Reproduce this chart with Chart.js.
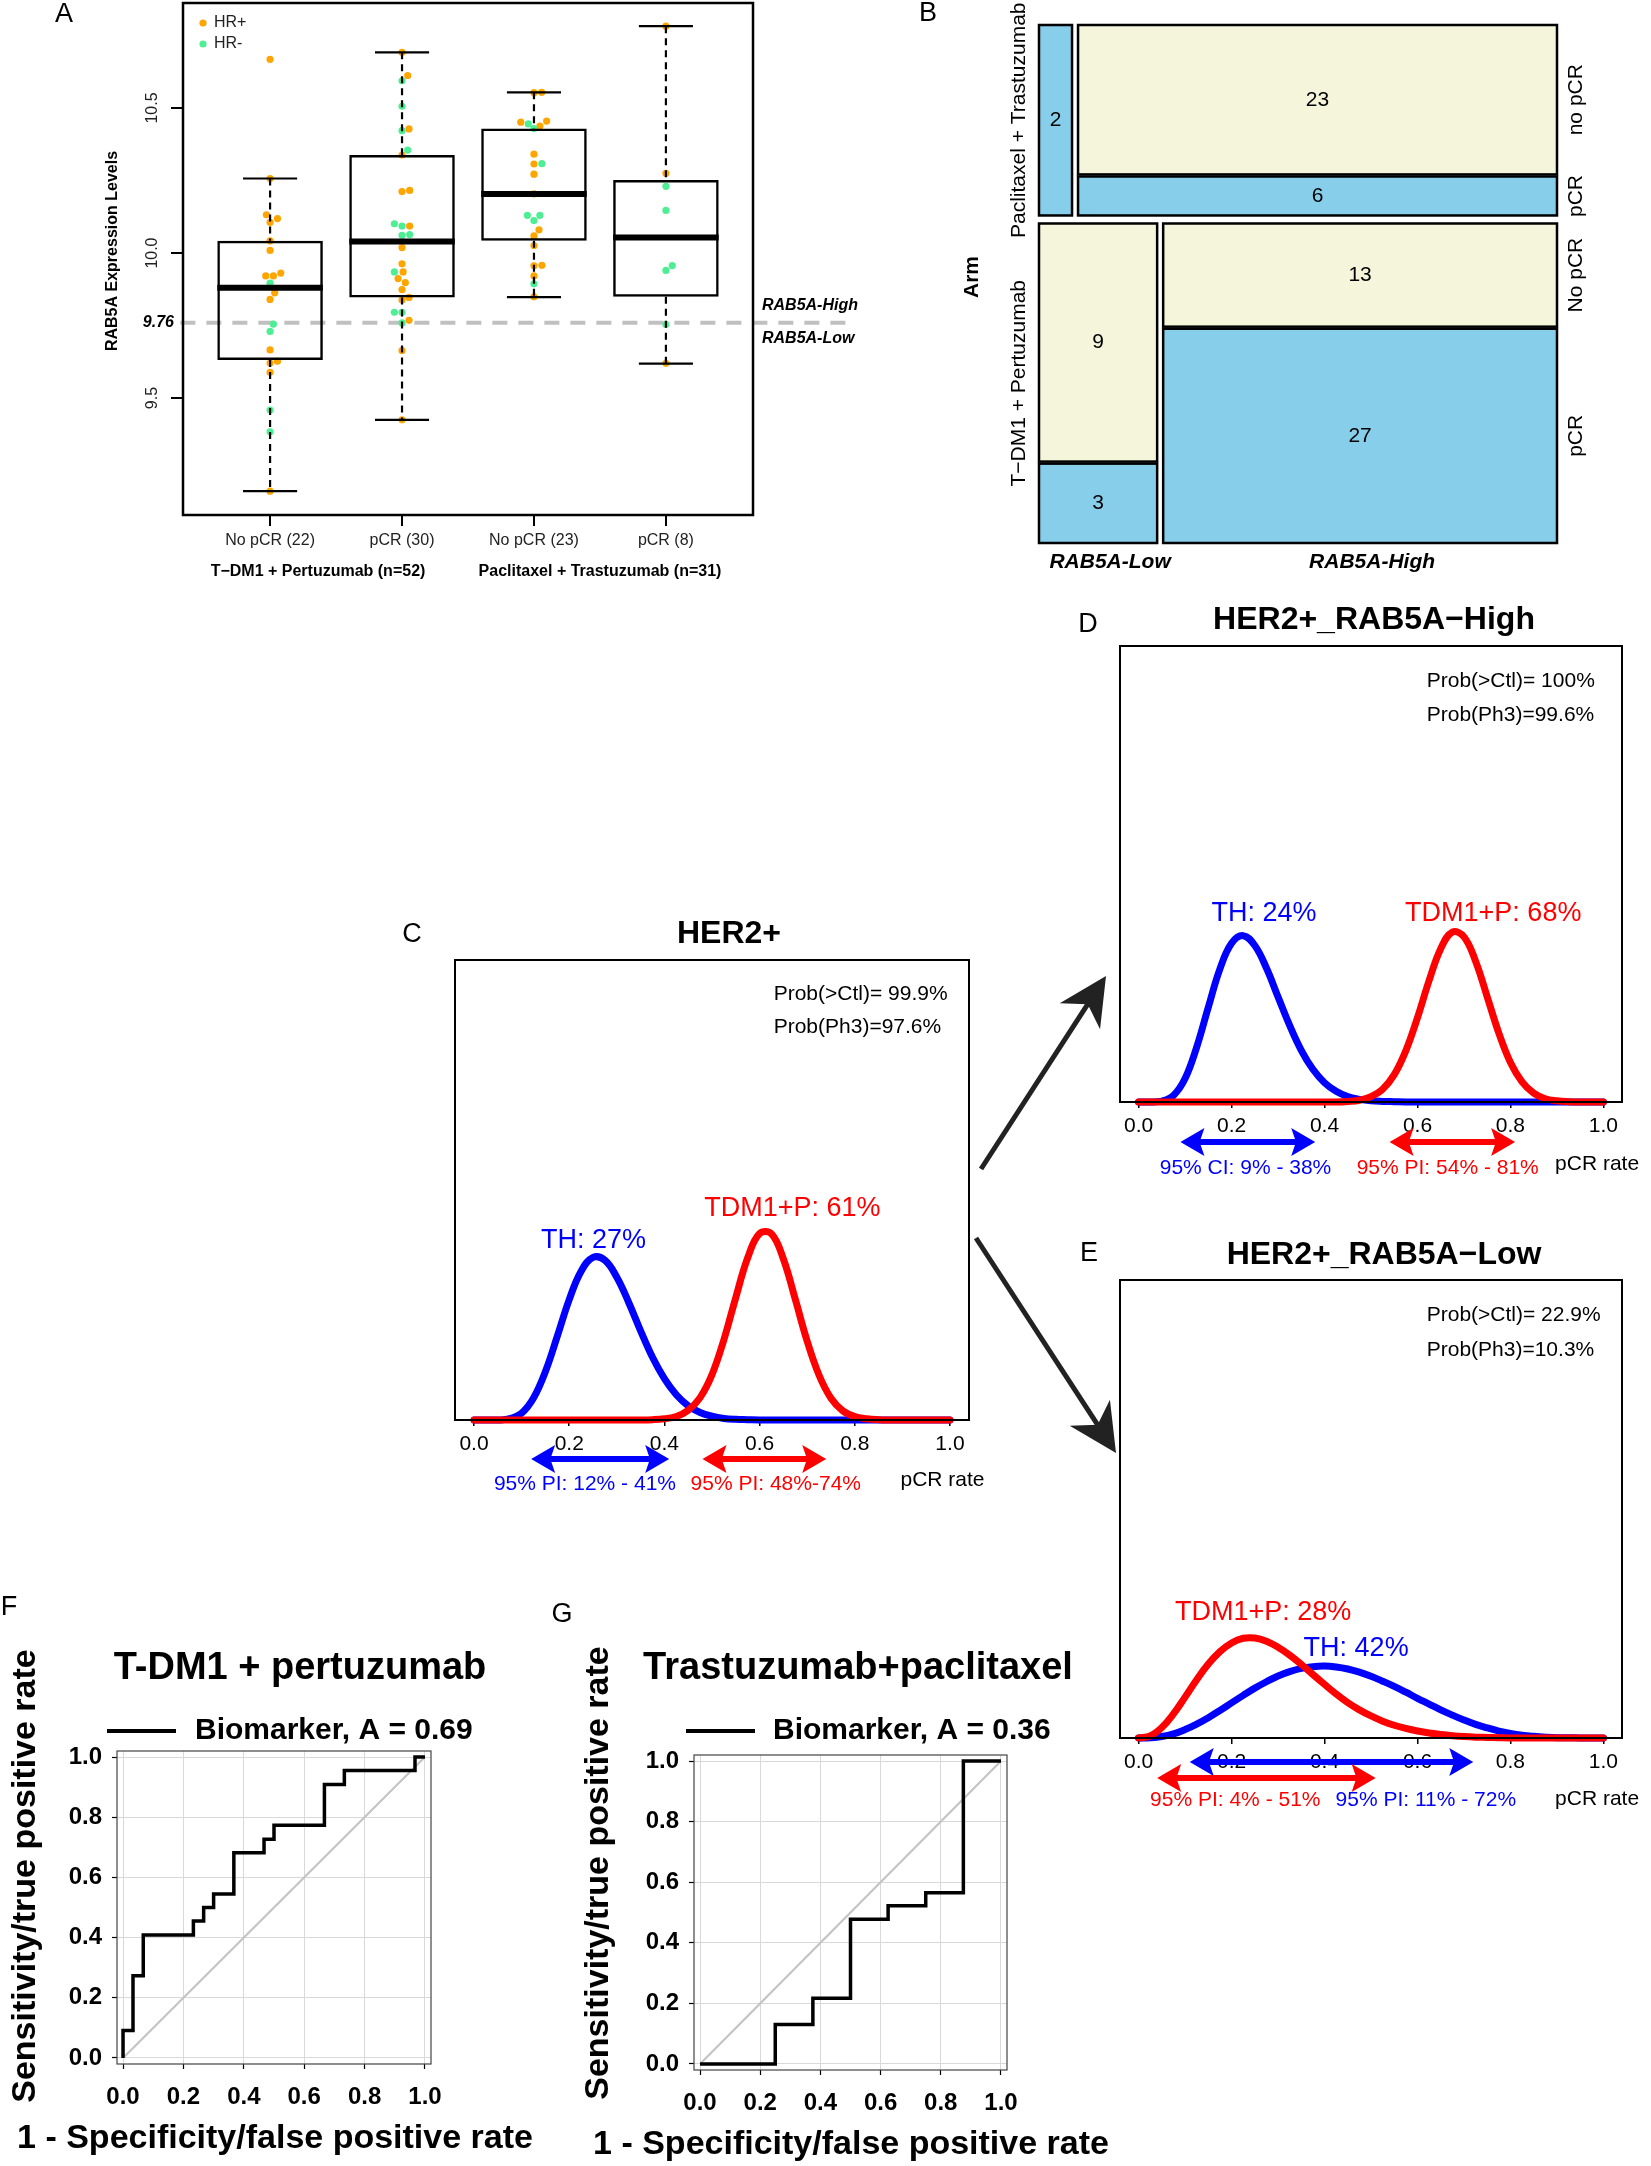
<!DOCTYPE html>
<html>
<head>
<meta charset="utf-8">
<title>RAB5A figure</title>
<script src="https://cdn.jsdelivr.net/npm/chart.js@4.4.1/dist/chart.umd.min.js"></script>
<style>
  html, body { margin:0; padding:0; background:#ffffff; }
  body { position:relative; width:1651px; height:2166px; overflow:hidden; }
  canvas { position:absolute; }
</style>
</head>
<body>
<script>
// ======================= DATA =======================
// ---- Panel A : RAB5A expression by arm / response ----
const groupLabels = ['No pCR (22)', 'pCR (30)', 'No pCR (23)', 'pCR (8)'];
const armLabelsA = ['T\u2212DM1 + Pertuzumab (n=52)', 'Paclitaxel + Trastuzumab (n=31)'];
const boxQ1       = [9.631, 9.847, 10.042, 9.849];
const boxMedian   = [9.880, 10.040, 10.204, 10.054];
const boxQ3       = [10.042, 10.338, 10.429, 10.252];
const whiskerLow  = [9.179, 9.425, 9.848, 9.619];
const whiskerHigh = [10.257, 10.692, 10.554, 10.782];
const yTicksA = [9.5, 10.0, 10.5];
const cutoffValue = 9.76;
const hrLegend = ['HR+', 'HR-'];
const ptGroup = [
  1,1,1,1,1,1,1,1,1,1,1,1,1,1,1,1,1,1,1,1,1,1,
  2,2,2,2,2,2,2,2,2,2,2,2,2,2,2,2,2,2,2,2,2,2,2,2,2,2,2,2,2,2,
  3,3,3,3,3,3,3,3,3,3,3,3,3,3,3,3,3,3,3,3,3,3,3,
  4,4,4,4,4,4,4,4];
const ptValue = [
  10.668,10.257,10.132,10.119,10.106,10.042,10.009,9.921,9.921,9.931,9.896,9.863,9.840,9.755,9.730,9.666,9.621,9.627,9.589,9.459,9.384,9.179,
  10.692,10.612,10.594,10.506,10.422,10.428,10.355,10.338,10.212,10.216,10.101,10.093,10.093,10.061,10.064,10.019,9.963,9.935,9.935,9.912,9.898,9.874,9.838,9.847,9.796,9.796,9.759,9.768,9.664,9.425,
  10.553,10.554,10.451,10.445,10.438,10.455,10.429,10.341,10.307,10.308,10.272,10.204,10.130,10.130,10.112,10.080,10.059,10.026,9.956,9.958,9.921,9.894,9.849,
  10.782,10.275,10.230,10.147,9.940,9.957,9.754,9.620];
const ptHR = [
  '+','+','+','+','+','+','+','+','+','+','-','+','+','-','-','+','+','+','+','-','-','+',
  '+','+','-','-','-','+','-','+','+','+','-','-','+','-','-','+','+','-','+','+','+','+','+','+','-','-','-','+','+','+',
  '+','+','+','-','+','+','-','+','+','-','+','+','-','-','-','+','+','+','+','+','+','-','+',
  '+','+','-','-','-','-','-','+'];
const ptJitter = [
  0,0,-0.028,0.056,0,0,0,-0.033,0.025,0.081,0,0.035,0,0.025,0,0,0,0.056,0,0,0,0,
  0,0.043,0,0,0,0.053,0.043,0,0,0.058,-0.058,0,0.058,0,0.058,0,0,-0.058,0.008,-0.03,0.025,0,0,0.053,-0.058,0,0,0.053,0,0,
  0,0.058,-0.10,-0.043,0.045,0.096,0,0,0,0.06,0,0,-0.05,0.045,0,0.038,0,0,0,0.06,0,0,0,
  0,0,0,0,0,0.048,0,0];

// ---- Panel B : mosaic ----
const armsB = ['Paclitaxel + Trastuzumab', 'T\u2212DM1 + Pertuzumab'];
const rabB = ['RAB5A-Low', 'RAB5A-High'];
const noPcrB = [[0, 23], [9, 13]];
const pcrB   = [[2, 6], [3, 27]];
const respLabelsB = [['no pCR', 'pCR'], ['No pCR', 'pCR']];

// ---- Panels C, D, E : posterior pCR-rate densities ----
const rateTicks = [0, 0.2, 0.4, 0.6, 0.8, 1.0];
const rateGrid = [0,0.025,0.05,0.075,0.1,0.125,0.15,0.175,0.2,0.225,0.25,0.275,0.3,0.325,0.35,0.375,0.4,0.425,0.45,0.475,0.5,
                  0.525,0.55,0.575,0.6,0.625,0.65,0.675,0.7,0.725,0.75,0.775,0.8,0.825,0.85,0.875,0.9,0.925,0.95,0.975,1.0];
const densC_TH  = [0,0,0,0.04,0.22,0.70,1.54,2.66,3.82,4.72,5.16,5.07,4.53,3.73,2.83,1.99,1.31,0.80,0.45,0.24,0.12,
                   0.05,0.02,0.01,0,0,0,0,0,0,0,0,0,0,0,0,0,0,0,0,0];
const densC_TDM = [0,0,0,0,0,0,0,0,0,0,0,0,0,0,0,0.01,0.04,0.11,0.31,0.71,1.44,
                   2.55,3.89,5.15,5.92,5.91,5.11,3.83,2.50,1.42,0.69,0.29,0.11,0.04,0.01,0,0,0,0,0,0];
const densD_TH  = [0,0,0.03,0.22,0.79,1.85,3.19,4.48,5.34,5.60,5.27,4.51,3.54,2.58,1.74,1.10,0.65,0.36,0.18,0.09,0.04,
                   0.02,0.01,0,0,0,0,0,0,0,0,0,0,0,0,0,0,0,0,0,0];
const densD_TDM = [0,0,0,0,0,0,0,0,0,0,0,0,0,0,0,0,0,0,0.02,0.06,0.18,
                   0.43,0.92,1.73,2.84,4.09,5.16,5.72,5.56,4.74,3.54,2.32,1.33,0.68,0.30,0.11,0.04,0.01,0,0,0];
const densE_TH  = [0,0.01,0.05,0.14,0.29,0.48,0.70,0.95,1.21,1.47,1.72,1.94,2.14,2.29,2.40,2.46,2.48,2.45,2.38,2.27,2.13,
                   1.96,1.78,1.58,1.37,1.17,0.97,0.79,0.62,0.47,0.35,0.24,0.16,0.10,0.06,0.03,0.01,0.01,0,0,0];
const densE_TDM = [0,0.07,0.36,0.83,1.41,2.01,2.55,2.98,3.28,3.44,3.45,3.34,3.13,2.86,2.54,2.19,1.85,1.52,1.22,0.97,0.76,
                   0.58,0.44,0.33,0.24,0.17,0.12,0.08,0.05,0.03,0.02,0.01,0,0,0,0,0,0,0,0,0];
const densTitles = ['HER2+', 'HER2+_RAB5A\u2212High', 'HER2+_RAB5A\u2212Low'];
const probCtl = ['Prob(>Ctl)= 99.9%', 'Prob(>Ctl)= 100%', 'Prob(>Ctl)= 22.9%'];
const probPh3 = ['Prob(Ph3)=97.6%', 'Prob(Ph3)=99.6%', 'Prob(Ph3)=10.3%'];
const thLabel  = ['TH: 27%', 'TH: 24%', 'TH: 42%'];
const tdmLabel = ['TDM1+P: 61%', 'TDM1+P: 68%', 'TDM1+P: 28%'];
const thInterval  = [[0.12, 0.41], [0.09, 0.38], [0.11, 0.72]];
const tdmInterval = [[0.48, 0.74], [0.54, 0.81], [0.04, 0.51]];
const thIntervalLabel  = ['95% PI: 12% - 41%', '95% CI: 9% - 38%', '95% PI: 11% - 72%'];
const tdmIntervalLabel = ['95% PI: 48%-74%', '95% PI: 54% - 81%', '95% PI: 4% - 51%'];

// ---- Panels F, G : ROC curves ----
const rocTicks = [0, 0.2, 0.4, 0.6, 0.8, 1.0];
const rocTitles = ['T-DM1 + pertuzumab', 'Trastuzumab+paclitaxel'];
const rocAUC = ['0.69', '0.36'];
const rocF_fpr = [0,0,0.033,0.033,0.067,0.067,0.233,0.233,0.267,0.267,0.3,0.3,0.367,0.367,0.467,0.467,0.5,0.5,0.667,0.667,0.733,0.733,0.967,0.967,1.0];
const rocF_tpr = [0,0.091,0.091,0.273,0.273,0.409,0.409,0.455,0.455,0.5,0.5,0.545,0.545,0.682,0.682,0.727,0.727,0.773,0.773,0.909,0.909,0.955,0.955,1.0,1.0];
const rocG_fpr = [0,0.25,0.25,0.375,0.375,0.5,0.5,0.625,0.625,0.75,0.75,0.875,0.875,1.0];
const rocG_tpr = [0,0,0.130,0.130,0.217,0.217,0.478,0.478,0.522,0.522,0.565,0.565,1.0,1.0];
const chanceLine = [0, 1];

// ======================= HELPERS =======================
const FONT = "'Liberation Sans', Arial, Helvetica, sans-serif";
Chart.defaults.font.family = FONT;
Chart.defaults.color = '#000';

function addCanvas(r) {
  const c = document.createElement('canvas');
  c.width = r.w; c.height = r.h;
  c.style.left = r.x + 'px'; c.style.top = r.y + 'px';
  c.style.width = r.w + 'px'; c.style.height = r.h + 'px';
  document.body.appendChild(c);
  return c;
}
function drawText(ctx, s, x, y, size, o) {
  o = o || {};
  ctx.save();
  ctx.font = (o.style || 'normal') + ' ' + (o.weight || 'normal') + ' ' + size + 'px ' + FONT;
  ctx.fillStyle = o.color || '#000';
  ctx.textAlign = o.align || 'center';
  ctx.textBaseline = o.baseline || 'middle';
  ctx.translate(x, y);
  if (o.rot) ctx.rotate(o.rot);
  ctx.fillText(s, 0, 0);
  ctx.restore();
}
function baseOptions(R, A, yW, xH) {
  return {
    responsive: false, maintainAspectRatio: false, animation: false, devicePixelRatio: 1, events: [],
    layout: { autoPadding: false, padding: {
      left: A.l - R.x - yW, top: A.t - R.y,
      right: R.x + R.w - A.r, bottom: R.y + R.h - A.b - xH } },
    plugins: { legend: { display: false }, tooltip: { enabled: false }, title: { display: false } }
  };
}
function frame(ctx, a, color, lw) {
  ctx.save(); ctx.strokeStyle = color; ctx.lineWidth = lw;
  ctx.strokeRect(a.left, a.top, a.right - a.left, a.bottom - a.top);
  ctx.restore();
}
const UP = -Math.PI / 2;

// ======================= PANEL A =======================
(function () {
  const R = { x: 0, y: 0, w: 900, h: 600 }, A = { l: 183, t: 3, r: 753, b: 515 };
  const BOX_HALF = 0.4, CAP_HALF = 0.205;
  const pos = [], neg = [];
  ptValue.forEach((v, i) => {
    const p = { x: ptGroup[i] + ptJitter[i], y: v };
    (ptHR[i] === '+' ? pos : neg).push(p);
  });
  const boxes = groupLabels.map((_, i) => ({ x: i + 1, y: [boxQ1[i], boxQ3[i]] }));
  const whisk = [], caps = [], meds = [];
  groupLabels.forEach((_, i) => {
    const g = i + 1;
    whisk.push({ x: g, y: whiskerHigh[i] }, { x: g, y: boxQ3[i] }, { x: g, y: null },
               { x: g, y: boxQ1[i] }, { x: g, y: whiskerLow[i] }, { x: g, y: null });
    caps.push({ x: g - CAP_HALF, y: whiskerHigh[i] }, { x: g + CAP_HALF, y: whiskerHigh[i] }, { x: g, y: null },
              { x: g - CAP_HALF, y: whiskerLow[i] }, { x: g + CAP_HALF, y: whiskerLow[i] }, { x: g, y: null });
    meds.push({ x: g - BOX_HALF, y: boxMedian[i] }, { x: g + BOX_HALF, y: boxMedian[i] }, { x: g, y: null });
  });
  const xMin = 0.34, xMax = 4.66;
  const opts = baseOptions(R, A, 60, 50);
  opts.scales = {
    x: { type: 'linear', min: xMin, max: xMax, offset: false,
      afterBuildTicks: s => { s.ticks = groupLabels.map((_, i) => ({ value: i + 1 })); },
      afterFit: s => { s.height = 50; },
      ticks: { autoSkip: false, maxRotation: 0, minRotation: 0, padding: 5, color: '#222', font: { size: 16 },
               callback: v => groupLabels[Math.round(v) - 1] },
      grid: { offset: false, drawOnChartArea: false, drawTicks: true, tickLength: 11, color: '#000', lineWidth: 2 },
      border: { display: false } },
    y: { type: 'linear', min: 9.097, max: 10.862,
      afterBuildTicks: s => { s.ticks = yTicksA.map(v => ({ value: v })); },
      afterFit: s => { s.width = 60; },
      ticks: { display: false },
      grid: { drawOnChartArea: false, drawTicks: true, tickLength: 12, color: '#000', lineWidth: 2 },
      border: { display: false } }
  };
  const plug = {
    id: 'panelA',
    afterDraw(chart) {
      const ctx = chart.ctx, a = chart.chartArea, ys = chart.scales.y;
      frame(ctx, a, '#000', 2.5);
      yTicksA.forEach(v => drawText(ctx, v.toFixed(1), 153, ys.getPixelForValue(v), 16, { rot: UP, color: '#222' }));
      drawText(ctx, 'RAB5A Expression Levels', 113, 251, 16, { weight: 'bold', rot: UP });
      drawText(ctx, armLabelsA[0], 318, 572, 16, { weight: 'bold' });
      drawText(ctx, armLabelsA[1], 600, 572, 16, { weight: 'bold' });
      const yc = ys.getPixelForValue(cutoffValue);
      drawText(ctx, cutoffValue.toFixed(2), 174, yc, 16, { weight: 'bold', style: 'italic', align: 'right' });
      drawText(ctx, 'RAB5A-High', 762, yc - 17, 16, { weight: 'bold', style: 'italic', align: 'left' });
      drawText(ctx, 'RAB5A-Low', 762, yc + 16, 16, { weight: 'bold', style: 'italic', align: 'left' });
      [['#FFA500', 23], ['#4EEE94', 44]].forEach((d, i) => {
        ctx.save(); ctx.fillStyle = d[0]; ctx.beginPath(); ctx.arc(203, d[1], 3.6, 0, Math.PI * 2); ctx.fill(); ctx.restore();
        drawText(ctx, hrLegend[i], 214, d[1], 16, { align: 'left', color: '#222' });
      });
      drawText(ctx, 'A', 64, 15, 27);
    }
  };
  new Chart(addCanvas(R), {
    type: 'scatter',
    data: { datasets: [
      { type: 'line', data: [{ x: xMin - 0.02, y: cutoffValue }, { x: xMax + 0.75, y: cutoffValue }], borderColor: '#C0C0C0',
        borderWidth: 4, borderDash: [15, 11], pointRadius: 0, clip: false, order: 20 },
      { type: 'scatter', data: pos, backgroundColor: '#FFA500', borderWidth: 0, pointRadius: 3.6, order: 10 },
      { type: 'scatter', data: neg, backgroundColor: '#4EEE94', borderWidth: 0, pointRadius: 3.6, order: 9 },
      { type: 'bar', data: boxes, backgroundColor: 'rgba(0,0,0,0)', borderColor: '#000', borderWidth: 2.5,
        borderSkipped: false, barPercentage: 0.8, categoryPercentage: 1, order: 3 },
      { type: 'line', data: whisk, borderColor: '#000', borderWidth: 2.2, borderDash: [7, 5], pointRadius: 0, spanGaps: false, order: 4 },
      { type: 'line', data: caps, borderColor: '#000', borderWidth: 2.2, pointRadius: 0, spanGaps: false, order: 4 },
      { type: 'line', data: meds, borderColor: '#000', borderWidth: 6, borderCapStyle: 'butt', pointRadius: 0, spanGaps: false, order: 1 }
    ] },
    options: opts,
    plugins: [plug]
  });
})();

// ======================= PANEL B =======================
(function () {
  const R = { x: 900, y: 0, w: 751, h: 600 }, A = { l: 1039, t: 25, r: 1557, b: 543 };
  const GAP_R = 0.0155, GAP_C = 0.0116, GAP_I = 0.004;
  const BEIGE = '#F5F5DC', BLUE = '#87CEEB';
  const opts = baseOptions(R, A, 0, 0);
  opts.scales = {
    x: { type: 'linear', min: 0, max: 1, display: false },
    y: { type: 'linear', min: 0, max: 1, reverse: true, display: false }
  };
  const plug = {
    id: 'mosaic',
    afterDraw(chart) {
      const ctx = chart.ctx, xs = chart.scales.x, ys = chart.scales.y, ox = R.x, oy = R.y;
      const rowTot = armsB.map((_, i) => noPcrB[i][0] + noPcrB[i][1] + pcrB[i][0] + pcrB[i][1]);
      const grand = rowTot.reduce((s, v) => s + v, 0);
      let yy = 0;
      armsB.forEach((arm, i) => {
        const h = (1 - GAP_R) * rowTot[i] / grand;
        let xx = 0;
        rabB.forEach((rb, j) => {
          const n = noPcrB[i][j], p = pcrB[i][j], tot = n + p;
          const w = (1 - GAP_C) * tot / rowTot[i];
          const segs = [];
          if (n > 0 && p > 0) {
            const hn = (h - GAP_I) * n / tot;
            segs.push([yy, hn, n, BEIGE]);
            segs.push([yy + hn + GAP_I, h - hn - GAP_I, p, BLUE]);
          } else if (n > 0) segs.push([yy, h, n, BEIGE]);
          else segs.push([yy, h, p, BLUE]);
          const X0 = xs.getPixelForValue(xx), X1 = xs.getPixelForValue(xx + w);
          segs.forEach(s => {
            const Y0 = ys.getPixelForValue(s[0]), Y1 = ys.getPixelForValue(s[0] + s[1]);
            ctx.save();
            ctx.fillStyle = s[3]; ctx.fillRect(X0, Y0, X1 - X0, Y1 - Y0);
            ctx.strokeStyle = '#000'; ctx.lineWidth = 2.5; ctx.strokeRect(X0, Y0, X1 - X0, Y1 - Y0);
            ctx.restore();
            drawText(ctx, String(s[2]), (X0 + X1) / 2, (Y0 + Y1) / 2, 21);
          });
          if (j === rabB.length - 1) {
            segs.forEach((s, k) => {
              const lab = segs.length === 2 ? respLabelsB[i][k] : respLabelsB[i][1];
              drawText(ctx, lab, 1576 - ox, (ys.getPixelForValue(s[0]) + ys.getPixelForValue(s[0] + s[1])) / 2, 21, { rot: UP });
            });
          }
          if (i === armsB.length - 1) {
            drawText(ctx, rb, (X0 + X1) / 2 + 12, 562 - oy, 21, { weight: 'bold', style: 'italic' });
          }
          xx += w + GAP_C;
        });
        drawText(ctx, arm, 1019 - ox, (ys.getPixelForValue(yy) + ys.getPixelForValue(yy + h)) / 2, 21, { rot: UP });
        yy += h + GAP_R;
      });
      drawText(ctx, 'Arm', 972 - ox, 277 - oy, 21, { weight: 'bold', rot: UP });
      drawText(ctx, 'B', 928 - ox, 14 - oy, 27);
    }
  };
  new Chart(addCanvas(R), { type: 'scatter', data: { datasets: [{ data: [] }] }, options: opts, plugins: [plug] });
})();

// ======================= PANELS C, D, E =======================
function densityPanel(k, L, thDens, tdmDens) {
  const R = L.canvas, A = L.area;
  const opts = baseOptions(R, A, 0, 40);
  opts.scales = {
    x: { type: 'linear', min: -0.04, max: 1.04,
      afterBuildTicks: s => { s.ticks = rateTicks.map(v => ({ value: v })); },
      afterFit: s => { s.height = 40; },
      ticks: { autoSkip: false, maxRotation: 0, minRotation: 0, padding: 6, font: { size: 21 }, color: '#000',
               callback: v => Number(v).toFixed(1) },
      grid: { drawOnChartArea: false, drawTicks: true, tickLength: 6, color: '#000', lineWidth: 1.5 },
      border: { display: false } },
    y: { type: 'linear', min: 0, max: L.ymax, display: false }
  };
  function dblArrow(ctx, x1, x2, y, color) {
    const hl = 24, hw = 14;
    ctx.save(); ctx.strokeStyle = color; ctx.fillStyle = color; ctx.lineWidth = 6;
    ctx.beginPath(); ctx.moveTo(x1 + hl * 0.7, y); ctx.lineTo(x2 - hl * 0.7, y); ctx.stroke();
    ctx.beginPath(); ctx.moveTo(x1, y); ctx.lineTo(x1 + hl, y - hw); ctx.lineTo(x1 + hl * 0.8, y); ctx.lineTo(x1 + hl, y + hw); ctx.closePath(); ctx.fill();
    ctx.beginPath(); ctx.moveTo(x2, y); ctx.lineTo(x2 - hl, y - hw); ctx.lineTo(x2 - hl * 0.8, y); ctx.lineTo(x2 - hl, y + hw); ctx.closePath(); ctx.fill();
    ctx.restore();
  }
  const plug = {
    id: 'dens' + k,
    afterDraw(chart) {
      const ctx = chart.ctx, a = chart.chartArea, xs = chart.scales.x, ys = chart.scales.y, ox = R.x, oy = R.y;
      frame(ctx, a, '#000', 2);
      drawText(ctx, densTitles[k], L.title[0] - ox, L.title[1] - oy, 32, { weight: 'bold' });
      const px = a.left + L.probFrac * (a.right - a.left);
      drawText(ctx, probCtl[k], px, a.top + L.probDy[0], 21, { align: 'left' });
      drawText(ctx, probPh3[k], px, a.top + L.probDy[1], 21, { align: 'left' });
      drawText(ctx, thLabel[k], xs.getPixelForValue(L.thPos[0]), ys.getPixelForValue(L.thPos[1]), 27, { color: '#0000FF' });
      drawText(ctx, tdmLabel[k], xs.getPixelForValue(L.tdmPos[0]), ys.getPixelForValue(L.tdmPos[1]), 27, { color: '#FF0000' });
      dblArrow(ctx, xs.getPixelForValue(thInterval[k][0]), xs.getPixelForValue(thInterval[k][1]), a.bottom + L.thArrowDy, '#0000FF');
      dblArrow(ctx, xs.getPixelForValue(tdmInterval[k][0]), xs.getPixelForValue(tdmInterval[k][1]), a.bottom + L.tdmArrowDy, '#FF0000');
      drawText(ctx, thIntervalLabel[k], xs.getPixelForValue(L.thLabX), a.bottom + L.labelDy, 21, { color: '#0000FF' });
      drawText(ctx, tdmIntervalLabel[k], xs.getPixelForValue(L.tdmLabX), a.bottom + L.labelDy, 21, { color: '#FF0000' });
      drawText(ctx, 'pCR rate', xs.getPixelForValue(0.896), a.bottom + L.pcrDy, 21, { align: 'left' });
      drawText(ctx, L.letter[0], L.letter[1] - ox, L.letter[2] - oy, 27);
    }
  };
  const mk = arr => rateGrid.map((x, i) => ({ x: x, y: arr[i] }));
  new Chart(addCanvas(R), {
    type: 'line',
    data: { datasets: [
      { data: mk(tdmDens), borderColor: '#FF0000', borderWidth: 7, pointRadius: 0, tension: 0.4,
        borderCapStyle: 'round', borderJoinStyle: 'round', clip: false, fill: false },
      { data: mk(thDens), borderColor: '#0000FF', borderWidth: 7, pointRadius: 0, tension: 0.4,
        borderCapStyle: 'round', borderJoinStyle: 'round', clip: false, fill: false }
    ] },
    options: opts,
    plugins: [plug]
  });
}
densityPanel(0, {
  canvas: { x: 380, y: 900, w: 620, h: 610 }, area: { l: 455, t: 960, r: 969, b: 1420 }, ymax: 14.6,
  title: [729, 934], probFrac: 0.620, probDy: [34, 67], thPos: [0.251, 5.70], tdmPos: [0.669, 6.70],
  thArrowDy: 39, tdmArrowDy: 39, labelDy: 64, thLabX: 0.233, tdmLabX: 0.634, pcrDy: 60, letter: ['C', 412, 935]
}, densC_TH, densC_TDM);
densityPanel(1, {
  canvas: { x: 1050, y: 590, w: 601, h: 610 }, area: { l: 1120, t: 646, r: 1622, b: 1102 }, ymax: 15.35,
  title: [1374, 620], probFrac: 0.611, probDy: [35, 69], thPos: [0.27, 6.34], tdmPos: [0.763, 6.34],
  thArrowDy: 40, tdmArrowDy: 40, labelDy: 66, thLabX: 0.23, tdmLabX: 0.665, pcrDy: 62, letter: ['D', 1088, 625]
}, densD_TH, densD_TDM);
densityPanel(2, {
  canvas: { x: 1050, y: 1225, w: 601, h: 610 }, area: { l: 1120, t: 1280, r: 1622, b: 1738 }, ymax: 15.8,
  title: [1384, 1255], probFrac: 0.611, probDy: [35, 70], thPos: [0.468, 3.07], tdmPos: [0.268, 4.32],
  thArrowDy: 24, tdmArrowDy: 40, labelDy: 62, thLabX: 0.618, tdmLabX: 0.208, pcrDy: 61, letter: ['E', 1089, 1254]
}, densE_TH, densE_TDM);

// ======================= PANELS F, G =======================
function rocPanel(k, L, fpr, tpr) {
  const R = L.canvas, A = L.area;
  const opts = baseOptions(R, A, 80, 50);
  const axis = (pad, isX) => ({
    type: 'linear', min: -0.02, max: 1.02,
    afterBuildTicks: s => { s.ticks = rocTicks.map(v => ({ value: v })); },
    afterFit: s => { if (isX) s.height = 50; else s.width = 80; },
    ticks: { autoSkip: false, maxRotation: 0, minRotation: 0, padding: pad, font: { size: 24, weight: 'bold' }, color: '#000',
             callback: v => Number(v).toFixed(1) },
    grid: { drawOnChartArea: true, drawTicks: true, tickLength: 5, color: '#D9D9D9', lineWidth: 1, tickColor: '#000', tickWidth: 1.2 },
    border: { display: false }
  });
  opts.scales = { x: axis(14, true), y: axis(10, false) };
  const plug = {
    id: 'roc' + k,
    afterDraw(chart) {
      const ctx = chart.ctx, a = chart.chartArea, ox = R.x, oy = R.y;
      frame(ctx, a, '#444', 1.2);
      drawText(ctx, rocTitles[k], L.title[0] - ox, L.title[1] - oy, 38, { weight: 'bold' });
      ctx.save(); ctx.strokeStyle = '#000'; ctx.lineWidth = 4;
      ctx.beginPath(); ctx.moveTo(L.leg[0] - ox, L.leg[2] - oy); ctx.lineTo(L.leg[1] - ox, L.leg[2] - oy); ctx.stroke(); ctx.restore();
      drawText(ctx, 'Biomarker, A = ' + rocAUC[k], L.leg[3] - ox, L.leg[2] - oy, 30, { weight: 'bold', align: 'left' });
      drawText(ctx, 'Sensitivity/true positive rate', L.ylab[0] - ox, L.ylab[1] - oy, 34, { weight: 'bold', rot: UP });
      drawText(ctx, '1 - Specificity/false positive rate', L.xlab[0] - ox, L.xlab[1] - oy, 34, { weight: 'bold' });
      drawText(ctx, L.letter[0], L.letter[1] - ox, L.letter[2] - oy, 27);
    }
  };
  new Chart(addCanvas(R), {
    type: 'line',
    data: { datasets: [
      { data: fpr.map((x, i) => ({ x: x, y: tpr[i] })), borderColor: '#000', borderWidth: 3.5, pointRadius: 0,
        borderJoinStyle: 'miter', borderCapStyle: 'butt', fill: false, tension: 0 },
      { data: chanceLine.map(v => ({ x: v, y: v })), borderColor: '#C4C4C4', borderWidth: 2.2, pointRadius: 0, fill: false }
    ] },
    options: opts,
    plugins: [plug]
  });
}
rocPanel(0, {
  canvas: { x: 0, y: 1585, w: 560, h: 581 }, area: { l: 117, t: 1751, r: 431, b: 2064 },
  title: [300, 1669], leg: [107, 176, 1731, 195], ylab: [26, 1876], xlab: [275, 2139], letter: ['F', 9, 1608]
}, rocF_fpr, rocF_tpr);
rocPanel(1, {
  canvas: { x: 540, y: 1585, w: 600, h: 581 }, area: { l: 694, t: 1755, r: 1007, b: 2070 },
  title: [858, 1669], leg: [686, 755, 1731, 773], ylab: [599, 1873], xlab: [851, 2145], letter: ['G', 562, 1615]
}, rocG_fpr, rocG_tpr);

// ======================= connecting arrows C -> D, C -> E =======================
(function () {
  const R = { x: 960, y: 950, w: 180, h: 530 };
  const ctx = addCanvas(R).getContext('2d');
  function bigArrow(x1, y1, x2, y2) {
    x1 -= R.x; x2 -= R.x; y1 -= R.y; y2 -= R.y;
    const dx = x2 - x1, dy = y2 - y1, len = Math.hypot(dx, dy), ux = dx / len, uy = dy / len, px = -uy, py = ux;
    const hl = 48, hw = 24;
    ctx.save(); ctx.strokeStyle = '#222'; ctx.fillStyle = '#222'; ctx.lineWidth = 5;
    ctx.beginPath(); ctx.moveTo(x1, y1); ctx.lineTo(x2 - ux * hl * 0.6, y2 - uy * hl * 0.6); ctx.stroke();
    ctx.beginPath(); ctx.moveTo(x2, y2);
    ctx.lineTo(x2 - ux * hl + px * hw, y2 - uy * hl + py * hw);
    ctx.lineTo(x2 - ux * hl * 0.7, y2 - uy * hl * 0.7);
    ctx.lineTo(x2 - ux * hl - px * hw, y2 - uy * hl - py * hw);
    ctx.closePath(); ctx.fill(); ctx.restore();
  }
  bigArrow(981, 1169, 1106, 976);
  bigArrow(976, 1238, 1116, 1453);
})();
</script>
</body>
</html>
